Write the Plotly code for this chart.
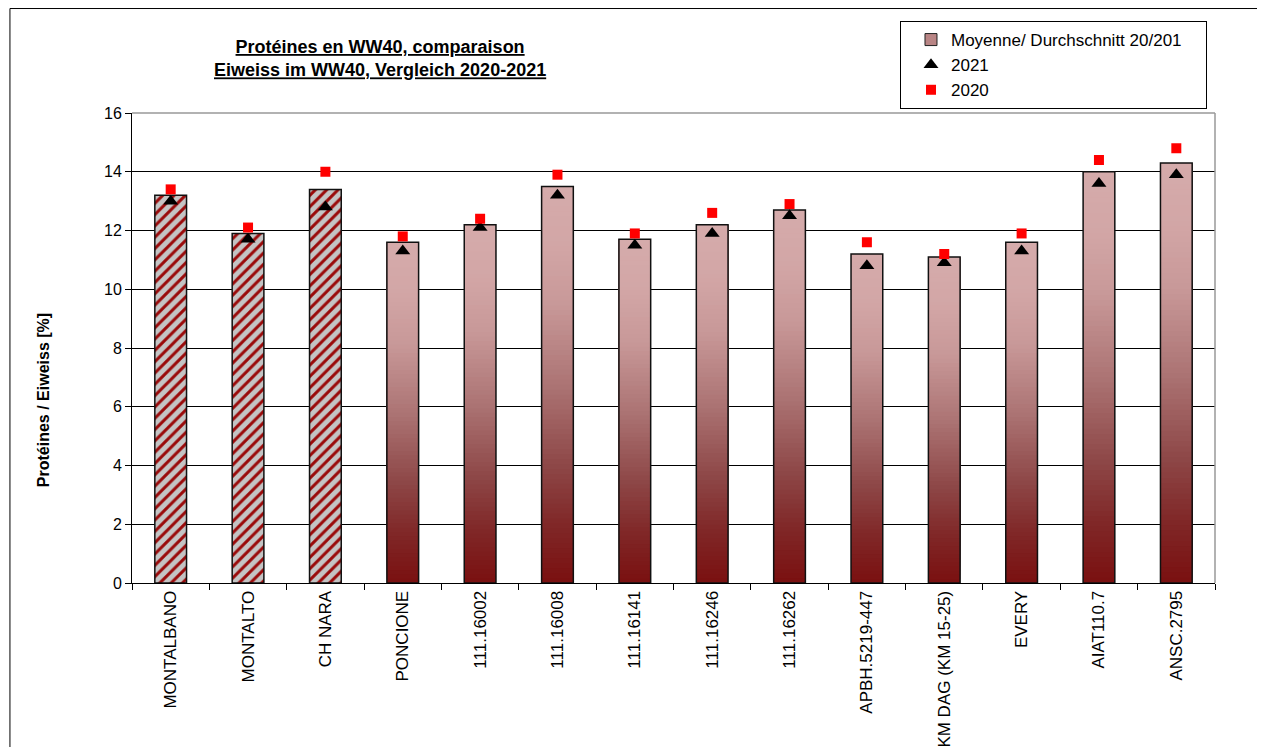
import plotly.graph_objects as go

categories = ["MONTALBANO", "MONTALTO", "CH NARA", "PONCIONE", "111.16002", "111.16008",
              "111.16141", "111.16246", "111.16262", "APBH.5219-447", "KM DAG (KM 15-25)",
              "EVERY", "AIAT110.7", "ANSC.2795"]
moyenne = [13.2, 11.9, 13.4, 11.6, 12.2, 13.5, 11.7, 12.2, 12.7, 11.2, 11.1, 11.6, 14.0, 14.3]
y2021 = [13.0, 11.7, 12.8, 11.3, 12.1, 13.2, 11.5, 11.9, 12.5, 10.8, 10.9, 11.3, 13.6, 13.9]
y2020 = [13.4, 12.1, 14.0, 11.8, 12.4, 13.9, 11.9, 12.6, 12.9, 11.6, 11.2, 11.9, 14.4, 14.8]
hatched = ["MONTALBANO", "MONTALTO", "CH NARA"]
yticks = [0, 2, 4, 6, 8, 10, 12, 14, 16]

FONT = "Arial, Liberation Sans, sans-serif"

# gradient stops (fraction from bottom -> rgb)
stops = [(0.0, (122, 16, 16)), (0.15, (128, 40, 40)), (0.3, (142, 72, 72)),
         (0.5, (172, 116, 116)), (0.7, (200, 152, 152)), (0.85, (210, 166, 166)),
         (1.0, (213, 171, 171))]


def grad_color(t):
    for (t0, c0), (t1, c1) in zip(stops[:-1], stops[1:]):
        if t0 <= t <= t1:
            f = (t - t0) / (t1 - t0) if t1 > t0 else 0
            r, g, b = (round(a + (bb - a) * f) for a, bb in zip(c0, c1))
            return f"rgb({r},{g},{b})"
    return "rgb(213,171,171)"


N = 80
gx, gy, gb, gc = [], [], [], []
for cat, v in zip(categories, moyenne):
    if cat in hatched:
        continue
    for k in range(N):
        base = v * k / N
        gx.append(cat)
        gb.append(base)
        gy.append(v - base)
        gc.append(grad_color((k + 0.5) / N))

fig = go.Figure()

# gradient bars (segments)
fig.add_trace(go.Bar(x=gx, y=gy, base=gb, width=0.41,
                     marker=dict(color=gc, line=dict(width=0)),
                     showlegend=False, hoverinfo="skip"))

# hatched bars
hx = [c for c in categories if c in hatched]
hy = [v for c, v in zip(categories, moyenne) if c in hatched]
fig.add_trace(go.Bar(x=hx, y=hy, width=0.41,
                     marker=dict(color="#c0c0c0",
                                 pattern=dict(shape="/", bgcolor="#c4c4c4", fgcolor="#9a0a0a",
                                              size=8, solidity=0.38, fillmode="replace"),
                                 line=dict(width=0)),
                     showlegend=False, hoverinfo="skip"))

# outlines
fig.add_trace(go.Bar(x=categories, y=moyenne, width=0.41,
                     marker=dict(color="rgba(0,0,0,0)", line=dict(color="#111111", width=1.5)),
                     showlegend=False))

# legend-only entry for the bars (trailing no-break spaces only widen the legend box)
fig.add_trace(go.Bar(x=[categories[0]], y=[None],
                     name="Moyenne/ Durchschnitt 20/201" + "\u00a0" * 4,
                     legendgroup="a",
                     marker=dict(color="#b98585", line=dict(color="#222222", width=1))))

fig.add_trace(go.Scatter(x=categories, y=y2021, mode="markers", name="2021", legendgroup="b",
                         marker=dict(symbol="triangle-up", size=13, color="black")))
fig.add_trace(go.Scatter(x=categories, y=y2020, mode="markers", name="2020", legendgroup="c",
                         marker=dict(symbol="square", size=10, color="#ff0000")))

# page has an 8px body margin: plot area sits at page x 132..1215, y 113..583
fig.update_layout(
    width=1265, height=747,
    template="none",
    paper_bgcolor="white", plot_bgcolor="white",
    barmode="overlay",
    margin=dict(l=124, r=58, t=105, b=172, autoexpand=False),
    font=dict(family=FONT, size=16, color="black"),
    showlegend=True,
    legend=dict(x=0.9926, xanchor="right", y=1.1957, yanchor="top",
                bordercolor="black", borderwidth=1, bgcolor="white",
                font=dict(family=FONT, size=17, color="black"),
                traceorder="normal", tracegroupgap=2, indentation=10),
    xaxis=dict(type="category", categoryorder="array", categoryarray=categories,
               range=[-0.5, len(categories) - 0.5],
               showline=True, linecolor="black", linewidth=1,
               ticks="outside", tickson="boundaries", ticklen=6, tickcolor="black",
               tickangle=-90, tickfont=dict(family=FONT, size=17, color="black"),
               showgrid=False, zeroline=False, automargin=False),
    yaxis=dict(range=[0, 16], tickvals=yticks, ticktext=[str(t) for t in yticks],
               showline=True, linecolor="black", linewidth=1,
               ticks="outside", ticklen=6, tickcolor="black",
               tickfont=dict(family=FONT, size=16, color="black"),
               showgrid=True, gridcolor="black", gridwidth=1,
               zeroline=False, automargin=False),
    annotations=[
        dict(text="<b><u>Protéines en WW40, comparaison</u></b><br><b><u>Eiweiss im WW40, Vergleich 2020-2021</u></b>",
             xref="paper", yref="paper", x=0.229, y=1.117, xanchor="center", yanchor="middle",
             showarrow=False, font=dict(family=FONT, size=18, color="black"), align="center"),
        dict(text="<b>Protéines / Eiweiss [%]</b>", xref="paper", yref="paper",
             x=-0.0822, y=0.389, xanchor="center", yanchor="middle", textangle=-90,
             showarrow=False, font=dict(family=FONT, size=16, color="black")),
    ],
    shapes=[
        # plot area border (top and right, grey)
        dict(type="line", xref="paper", yref="paper", x0=0, x1=1, y0=1, y1=1,
             line=dict(color="#999999", width=1.5)),
        dict(type="line", xref="paper", yref="paper", x0=1, x1=1, y0=0, y1=1,
             line=dict(color="#999999", width=1.5)),
        # outer chart border (top and left)
        dict(type="line", xref="paper", yref="paper", x0=-0.1127, x1=1.06, y0=1.2223, y1=1.2223,
             line=dict(color="black", width=1)),
        dict(type="line", xref="paper", yref="paper", x0=-0.1127, x1=-0.1127, y0=-0.36, y1=1.2223,
             line=dict(color="black", width=1)),
    ],
)

fig.write_html("out.html")
